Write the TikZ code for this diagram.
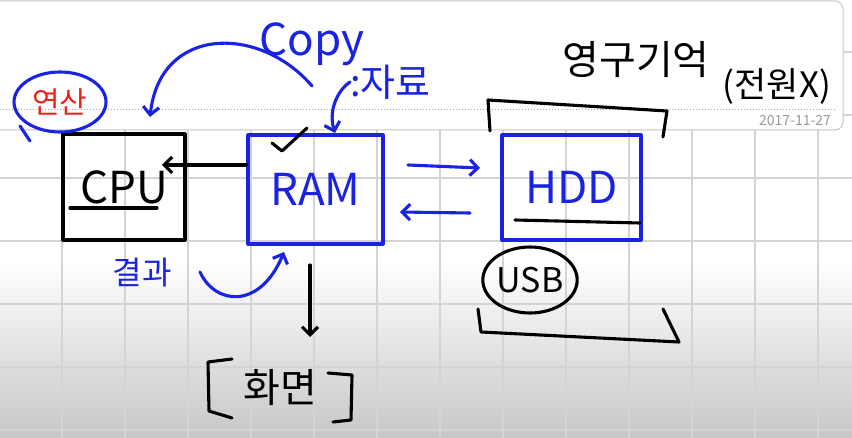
\documentclass[tikz,border=0pt]{standalone}
\usepackage{fontspec}
\setmainfont{Noto Sans CJK KR}
\usetikzlibrary{arrows.meta,shapes.geometric}
\definecolor{pen}{RGB}{25,35,225}
\definecolor{redpen}{RGB}{235,35,25}
\definecolor{gridc}{RGB}{212,212,212}
\tikzset{
  stroke/.style={line width=3.1pt, line cap=round, line join=round},
  boxnode/.style={stroke, draw, minimum width=#1, inner sep=0pt},
  bigtext/.style={font=\fontsize{44}{48}\selectfont},
  arr/.style={stroke, -{Straight Barb[length=8pt,width=16pt]}},
}
\begin{document}
\begin{tikzpicture}[x=1pt,y=-1pt]
\useasboundingbox (0,0) rectangle (852,438);
% background
\fill[white] (0,0) rectangle (852,438);
\shade[top color=white,bottom color=black!22] (0,262) rectangle (852,438);
\foreach \gx in {62,125,...,818} \draw[gridc,line width=1.3pt] (\gx,0) -- (\gx,438);
\foreach \gy in {52,115,...,430} \draw[gridc,line width=1.3pt] (0,\gy) -- (852,\gy);
% top panel
\draw[fill=white,draw=black!22,line width=1pt,rounded corners=8pt] (-12,1) rectangle (843,130);
\draw[black!35,dotted,line width=1pt] (0,110) -- (836,110);
\node[text=black!40,font=\fontsize{14}{15}\selectfont,inner sep=0pt] (date) at (795,121) {2017-11-27};

% boxes
\node[boxnode=122pt, minimum height=106pt, draw=black, text=black, bigtext] (cpu) at (124,187) {CPU};
\node[boxnode=135pt, minimum height=109pt, draw=pen, text=pen, bigtext] (ram) at (315.5,189.5) {RAM};
\node[boxnode=139pt, minimum height=105pt, draw=pen, text=pen, bigtext] (hdd) at (571.5,187.5) {HDD};
\draw[stroke] (70,208) -- (157,208);
\draw[stroke] (515,220) -- (640,223);

% labels
\node[ellipse, draw=pen, stroke, text=redpen, minimum width=92pt, minimum height=60pt, inner sep=0pt, font=\fontsize{30}{32}\selectfont] (yeonsan) at (60,102) {연산};
\draw[stroke,pen] (20,126) -- (30,141);
\node[text=pen, font=\fontsize{44}{48}\selectfont, inner sep=0pt] (copy) at (312,44) {Copy};
\node[text=pen, font=\fontsize{38}{42}\selectfont, inner sep=0pt, anchor=west] (jaryo) at (350,82) {:자료};
\node[text=pen, font=\fontsize{32}{36}\selectfont, inner sep=0pt] (gyeolgwa) at (142,273) {결과};
\node[font=\fontsize{40}{44}\selectfont, inner sep=0pt] (yeonggu) at (636,60) {영구기억};
\node[font=\fontsize{35}{38}\selectfont, inner sep=0pt] (jeonwon) at (777,86) {(전원X)};
\node[ellipse, draw, stroke, minimum width=92pt, minimum height=66pt, inner sep=0pt, font=\fontsize{34}{38}\selectfont] (usb) at (530,280) {USB};
\node[font=\fontsize{40}{44}\selectfont, inner sep=0pt] (hwamyeon) at (280,388) {화면};

% brackets
\draw[stroke] (490,131) -- (488,100) -- (667,111) -- (663,137);
\draw[stroke] (478,309) -- (481,332) -- (679,342) -- (663,309);
\draw[stroke] (232,359) -- (208,362) -- (209,411) -- (232,418);
\draw[stroke] (328,373) -- (352,375) -- (351,420) -- (333,422);

% check mark
\draw[stroke] (272,143) -- (282,151) -- (307,128);

% connectors
\coordinate (cputip) at (162,165);
\draw[arr] (ram.west |- cputip) -- (cputip);
\coordinate (r2hs) at (408,165);
\coordinate (r2he) at (480,168);
\draw[arr,pen] (r2hs) -- (r2he);
\coordinate (h2rs) at (470,213);
\coordinate (h2re) at (400,212);
\draw[arr,pen] (h2rs) -- (h2re);
\coordinate (copys) at (312,86);
\coordinate (copye) at (150,117);
\draw[arr,pen] (copys) .. controls (260,25) and (160,25) .. (copye);
\coordinate (jaryoe) at (335,133);
\draw[arr,pen] (jaryo.west) .. controls (338,90) and (328,110) .. (jaryoe);
\coordinate (gs) at (200,272);
\coordinate (ge) at (284,252);
\draw[arr,pen] (gs) .. controls (215,305) and (260,310) .. (ge);
\coordinate (ds) at (310,265);
\coordinate (de) at (310,337);
\draw[arr] (ds) -- (de);
\end{tikzpicture}
\end{document}
